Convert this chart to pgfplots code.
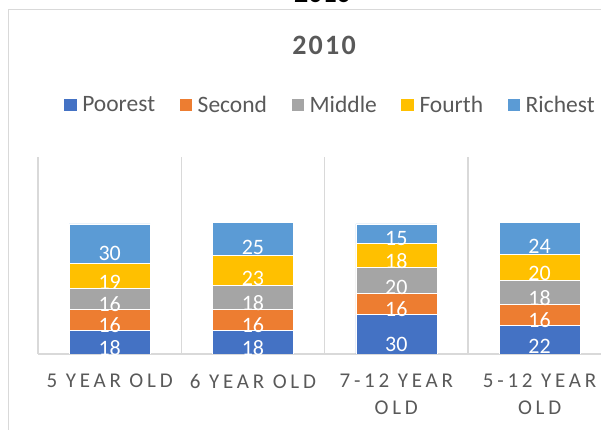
\documentclass[border=0pt]{standalone}
\usepackage{pgfplots}
\pgfplotsset{compat=1.18}
\usepackage{fontspec}
\setmainfont{Carlito}
\definecolor{cPoor}{HTML}{4472C4}
\definecolor{cSec}{HTML}{ED7D31}
\definecolor{cMid}{HTML}{A5A5A5}
\definecolor{cFour}{HTML}{FFC000}
\definecolor{cRich}{HTML}{5B9BD5}
\definecolor{gridgray}{HTML}{D9D9D9}
\definecolor{txtgray}{HTML}{595959}
\begin{document}
\begin{tikzpicture}
\useasboundingbox (0,0) rectangle (601pt,430pt);
\clip (0,0) rectangle (601pt,430pt);
% chart border
\draw[gridgray, line width=1pt] (8.3pt,-20pt) -- (8.3pt,420.5pt) -- (640pt,420.5pt);
% cut-off title above
\node[anchor=base, font=\bfseries\fontsize{28}{30}\selectfont, text=black, inner sep=0pt] at (322.5pt,427.7pt) {2010};
% title
\node[anchor=base, font=\bfseries\fontsize{28}{30}\selectfont\addfontfeatures{LetterSpace=8}, text=txtgray, inner sep=0pt] at (324pt,375.7pt) {2010};
\begin{axis}[
  at={(38pt,76pt)}, anchor=south west,
  scale only axis, width=573.3pt, height=197pt,
  xmin=-0.5, xmax=3.5, ymin=0, ymax=150,
  ybar stacked, bar width=81pt,
  /pgf/number format/assume math mode=true,
  axis x line*=bottom, axis y line=none,
  x axis line style={draw=gridgray, line width=1.3pt},
  xtick={0,1,2,3},
  xticklabels={5 YEAR OLD,6 YEAR OLD,{7-12 YEAR\\OLD},{5-12 YEAR\\OLD}},
  major tick length=0pt, minor tick length=0pt,
  ytick=\empty,
  minor xtick={-0.5,0.5,1.5,2.5},
  xminorgrids,
  minor grid style={draw=gridgray, line width=1.3pt},
  xticklabel style={align=center, text=txtgray, anchor=north, inner sep=0pt, yshift=-20pt,
    font=\fontsize{21}{27}\selectfont\addfontfeatures{LetterSpace=18}},
  nodes near coords={\pgfmathprintnumber{\rawv}},
  visualization depends on={\thisrow{v} \as \rawv},
  nodes near coords align={anchor=center},
  every node near coord/.append style={anchor=center, text=white, inner sep=0pt,
    font=\fontsize{22}{24}\selectfont,
    shift={(axis direction cs:0,-\rawv/4)}},
  legend columns=5,
  legend image code/.code={\fill[#1] (0pt,-6.7pt) rectangle (13.5pt,6.7pt);},
  legend style={draw=none, fill=none, at={(0.0436,1.264)}, anchor=west,
    inner xsep=0pt, inner ysep=0pt,
    font=\fontsize{23.5}{26}\selectfont, text=txtgray,
    nodes={inner sep=0pt, anchor=west},
    /tikz/every odd column/.append style={column sep=5pt},
    /tikz/every even column/.append style={column sep=23.5pt}},
]
\addplot[fill=cPoor, draw=white, line width=0.6pt] table[x=x,y=v] {
x v
0 18
1 18
2 30
3 22
};
\addplot[fill=cSec, draw=white, line width=0.6pt] table[x=x,y=v] {
x v
0 16
1 16
2 16
3 16
};
\addplot[fill=cMid, draw=white, line width=0.6pt] table[x=x,y=v] {
x v
0 16
1 18
2 20
3 18
};
\addplot[fill=cFour, draw=white, line width=0.6pt] table[x=x,y=v] {
x v
0 19
1 23
2 18
3 20
};
\addplot[fill=cRich, draw=white, line width=0.6pt] table[x=x,y=v] {
x v
0 30
1 25
2 15
3 24
};
\legend{Poorest,Second,Middle,Fourth,Richest}
\end{axis}
\end{tikzpicture}
\end{document}
